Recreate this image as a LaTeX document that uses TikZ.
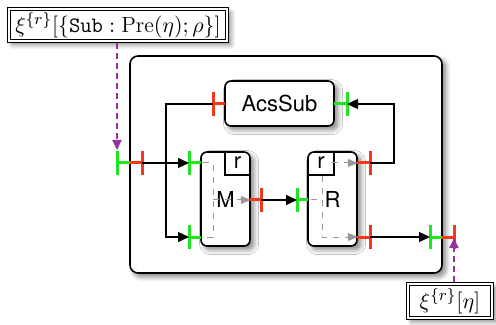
\documentclass[tikz,border=0pt]{standalone}
\usepackage{fontspec}
\newfontfamily\helv{TeX Gyre Heros}
\usetikzlibrary{arrows.meta, positioning, shadows.blur}

\definecolor{portin}{RGB}{30,230,30}
\definecolor{portout}{RGB}{245,55,25}
\definecolor{flowpurple}{RGB}{150,50,160}

\begin{document}
\begin{tikzpicture}[x=0.5pt, y=-0.5pt,
  arr/.style={-{Triangle[length=5.5pt,width=5pt]}, line width=0.6pt},
  inner/.style={-{Triangle[length=5pt,width=4pt]}, gray!80, dashed,
    line width=0.5pt},
  comp/.style={draw, fill=white, rounded corners=3pt, line width=0.8pt,
    inner sep=0pt, font=\helv\fontsize{11}{13}\selectfont,
    blur shadow={shadow xshift=1.8pt, shadow yshift=-1.8pt,
      shadow blur radius=2.5pt, shadow opacity=50, shadow blur steps=8}},
  tagbox/.style={draw, double, double distance=0.9pt, line width=0.6pt,
    fill=white, inner sep=0pt, font=\fontsize{11}{13}\selectfont,
    blur shadow={shadow xshift=1.8pt, shadow yshift=-1.8pt,
      shadow blur radius=2.5pt, shadow opacity=50, shadow blur steps=8}},
  flow/.style={-{Triangle[length=5pt,width=4.5pt]}, flowpurple,
    dashed, dash pattern=on 3pt off 2pt, line width=0.9pt},
  tick/.style={line width=1.5pt}
]
  \useasboundingbox (0,0) rectangle (496,325);

  % system and its parts
  \node[comp, rounded corners=4pt, minimum width=156pt,
    minimum height=108.5pt] (sys) at (286,164.5) {};
  \node[comp, minimum width=54.5pt, minimum height=22.5pt]
    (acs) at (279.5,103.5) {AcsSub};
  \node[comp, minimum width=24.5pt, minimum height=47pt]
    (m) at (225.5,199) {M};
  \node[comp, minimum width=24.5pt, minimum height=47pt]
    (r) at (332.5,199) {R};

  % replicated parts
  \draw[line width=0.6pt] (225,152) |- (250,175);
  \node[font=\helv\fontsize{11}{13}\selectfont] (mr) at (237.5,163) {r};
  \draw[line width=0.6pt] (334,152) |- (308,175);
  \node[font=\helv\fontsize{11}{13}\selectfont] (rr) at (321,163) {r};

  % flows inside M and R
  \draw[gray!80, dashed, line width=0.5pt]
    (203,163) -- (213,163) -- (213,237) -- (203,237);
  \draw[inner] (213,200) -- (m.east |- 213,200);
  \draw[gray!80, dashed, line width=0.5pt] (311,200) -- (322,200);
  \draw[inner] (322,176) -- (322,237) -- (r.east |- 322,237);
  \draw[inner] (rr.east) -- (r.east |- rr.east);

  % ports: name / tick x / edge x / y / colour
  \foreach \p/\tx/\ex/\y/\c in {inA/117/130/163/portin,
      outA/142/130/163/portout, inM1/189/201/163/portin,
      inM2/189/201/237/portin, outS/213/225/104/portout,
      inS/347/334/104/portin, outM/261/250/200/portout,
      inR/297/308/200/portin, outR1/370/357/163/portout,
      outR2/370/357/237/portout, inB/430/442/237/portin,
      outB/454/442/237/portout} {
    \coordinate (\p) at (\tx,\y);
    \draw[tick, \c] (\ex,\y) -- (\p);
    \draw[tick, \c] (\tx,{\y-12}) -- (\tx,{\y+12});
  }

  % connectors
  \draw[arr] (outA) -- (inM1);
  \draw[arr] (outS) -- ++(-47,0) |- (inM2);
  \draw[arr] (outM) -- (inR);
  \draw[arr] (outR1) -- ++(24,0) |- (inS);
  \draw[arr] (outR2) -- (inB);

  % environment
  \node[tagbox, minimum width=108.9pt, minimum height=15.9pt]
    (tagtop) at (118,25)
    {$\xi^{\{r\}}[\{\texttt{Sub} : \mathrm{Pre}(\eta); \rho\}]$};
  \node[tagbox, minimum width=41.9pt, minimum height=16.9pt]
    (tagbot) at (450,301) {$\xi^{\{r\}}[\eta]$};
  \draw[flow, shorten <=1pt, shorten >=6.5pt] (tagtop.south -| inA) -- (inA);
  \draw[flow, shorten <=1pt, shorten >=0.5pt] (tagbot.north -| outB) -- (outB);
\end{tikzpicture}
\end{document}
